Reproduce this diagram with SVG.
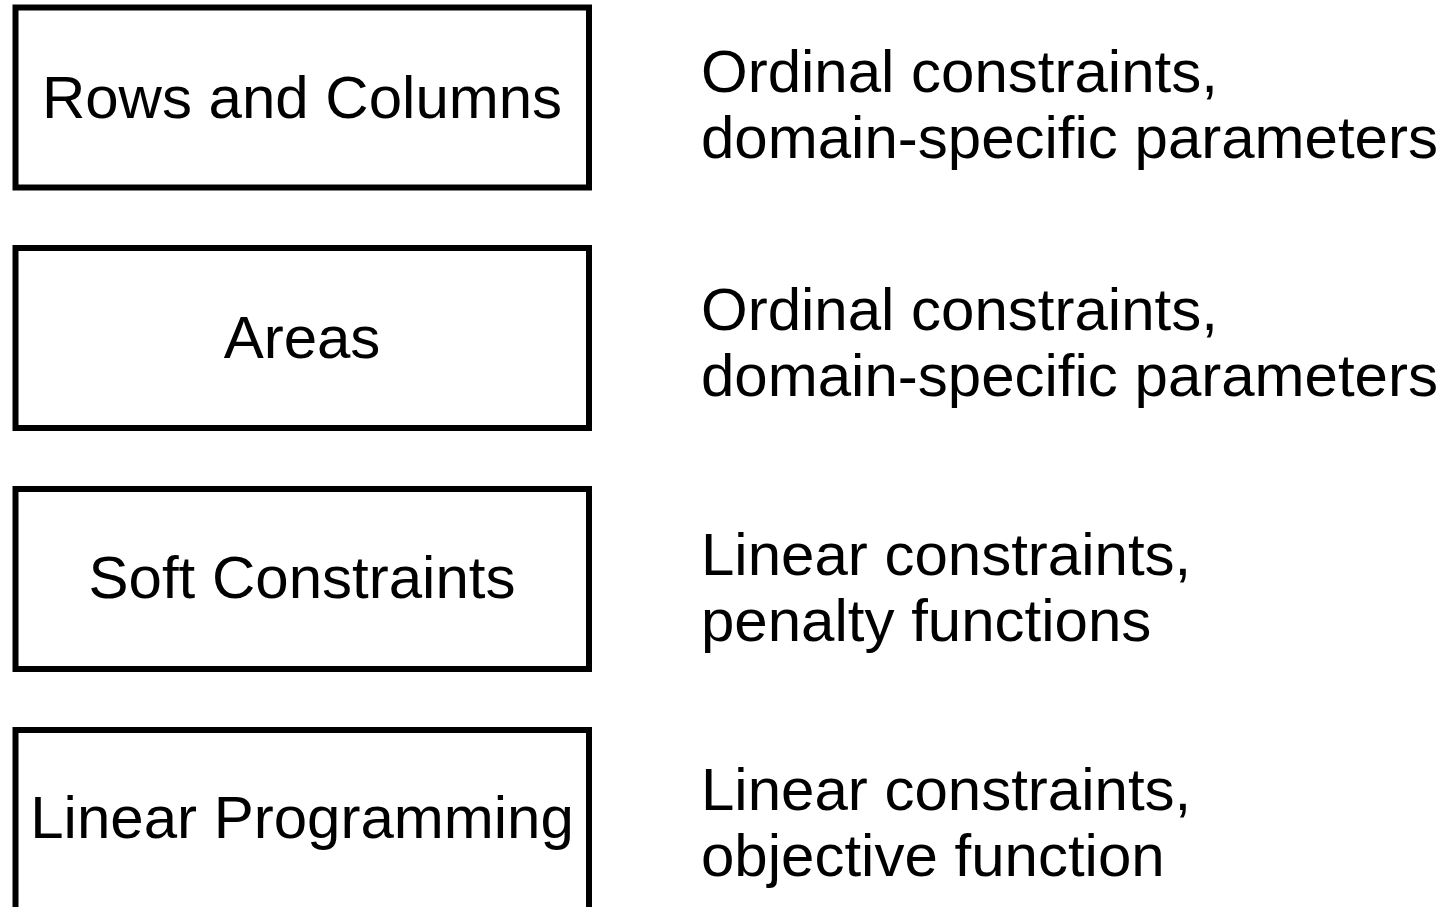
<svg xmlns="http://www.w3.org/2000/svg" width="1445" height="907" viewBox="0 0 1445 907">
<style>
.box{fill:#fff;stroke:#000;stroke-width:6}
.t{font-family:"Liberation Sans",Arial,sans-serif;font-size:60px;fill:#000}
.c{text-anchor:middle}
</style>
<rect width="1445" height="907" fill="#fff"/>
<g id="node1"><rect class="box" x="15.5" y="7.5" width="573.5" height="180"/><text class="t c" x="302" y="118">Rows and Columns</text></g>
<g id="node2"><rect class="box" x="15.5" y="248" width="573.5" height="180"/><text class="t c" x="302" y="358">Areas</text></g>
<g id="node3"><rect class="box" x="15.5" y="489" width="573.5" height="180"/><text class="t c" x="302" y="598">Soft Constraints</text></g>
<g id="node4"><rect class="box" x="15.5" y="730" width="573.5" height="200"/><text class="t c" x="302" y="838">Linear Programming</text></g>
<g id="labels">
<text class="t" x="701" y="92">Ordinal constraints,<tspan x="701" y="158">domain-specific parameters</tspan></text>
<text class="t" x="701" y="330">Ordinal constraints,<tspan x="701" y="396">domain-specific parameters</tspan></text>
<text class="t" x="701" y="575">Linear constraints,<tspan x="701" y="641">penalty functions</tspan></text>
<text class="t" x="701" y="810">Linear constraints,<tspan x="701" y="876">objective function</tspan></text>
</g>
<g id="connectors"></g>
</svg>
